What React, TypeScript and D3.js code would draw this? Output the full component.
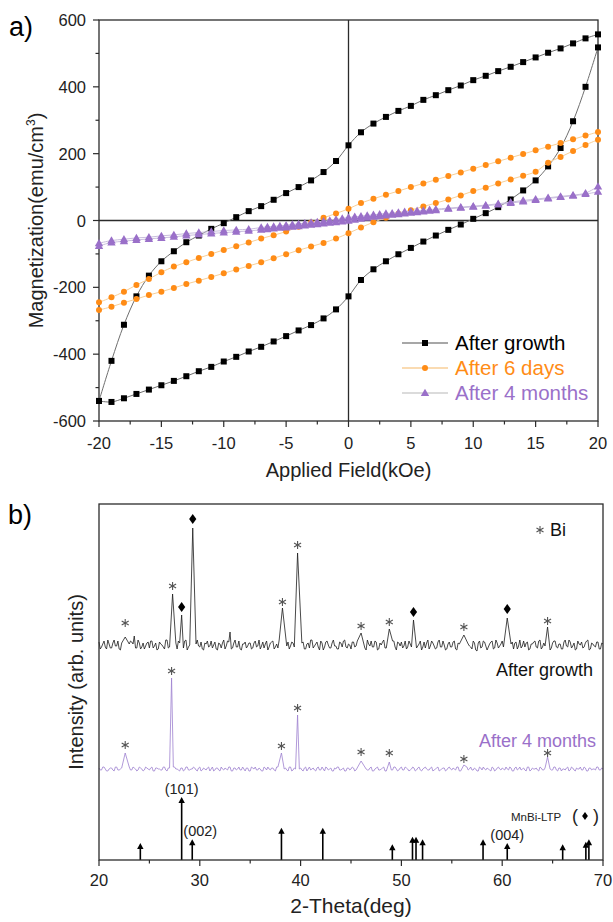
import * as d3 from "d3";

// ---- panel a: hysteresis loops (kOe, emu/cm3) ----
const FIELD_DOWN = d3.range(20, -20.5, -1);
const FIELD_UP = d3.range(-20, 20.5, 1);

const GROWTH_DOWN = [557, 545, 530, 515, 502, 488, 474, 460, 447, 433, 420, 404, 390, 375, 361, 343, 328, 310, 290, 264, 225,
  178, 145, 120, 100, 82, 62, 43, 28, 10, -8, -25, -45, -65, -92, -122, -165, -227, -312, -420, -540];
const GROWTH_UP = [-540, -543, -532, -519, -506, -493, -480, -466, -451, -438, -422, -408, -392, -378, -362, -346, -329, -313, -293, -266, -227,
  -178, -146, -122, -101, -82, -63, -45, -28, -12, 5, 22, 40, 63, 90, 120, 162, 217, 297, 400, 518];

const DAYS_DOWN = [265, 254, 243, 232, 221, 210, 199, 188, 177, 166, 155, 144, 133, 122, 111, 100, 88, 77, 65, 52, 35,
  21, 8, -6, -19, -33, -44, -54, -66, -77, -88, -100, -112, -125, -138, -155, -175, -193, -213, -230, -245];
const DAYS_UP = [-268, -258, -246, -235, -223, -213, -202, -190, -180, -169, -158, -147, -136, -125, -113, -101, -89, -78, -67, -54, -38,
  -21, -5, 8, 20, 31, 42, 52, 63, 75, 88, 98, 111, 123, 134, 146, 173, 190, 208, 226, 242];

const MONTHS_FIELD_DOWN = [...d3.range(20, 7.5, -1), ...d3.range(7, -7.25, -0.5), ...d3.range(-8, -20.5, -1)];
const MONTHS_FIELD_UP = [...d3.range(-20, -7.5, 1), ...d3.range(-7, 7.25, 0.5), ...d3.range(8, 20.5, 1)];
const MONTHS_DOWN = [102, 82, 76, 72, 68, 64, 60, 55, 50, 46, 43, 40, 37,
  34, 32, 30, 29, 27, 26, 24, 22, 21, 19, 17, 15, 13, 11, 9, 6, 3, 0, -2, -4, -6, -8, -10, -12, -14, -16, -18, -19, -21,
  -26, -28, -30, -33, -36, -39, -43, -46, -50, -52, -56, -60, -68];
const MONTHS_UP = [-76, -66, -62, -58, -55, -52, -49, -45, -42, -39, -36, -34, -31,
  -28, -26, -24, -22, -21, -19, -17, -15, -13, -11, -9, -7, -5, -3, -1, 2, 5, 8, 11, 13, 15, 17, 19, 21, 23, 25, 27, 29, 31,
  35, 38, 41, 44, 48, 52, 57, 61, 66, 70, 74, 79, 86];

const LOOP_LABELS = ["After growth", "After 6 days", "After 4 months"];

// ---- panel b: XRD, 2-theta grid from 20 to 70 in 0.125 steps ----
// *_NOISE sits on 20, 20.25, ...; *_MID on 20.125, 20.375, ...
const THETA0 = 20;
const STEP = 0.25;
const GROWTH_NOISE = [
  3, -2, 4, -4, 1, -3, 5, -1, -4, 2, 4, -5, 1, 3, 9, -3, 2, -2, -4, 2,
  -3, 4, -1, -5, 3, 0, -4, 5, -2, 1, 3, -4, 2, -1, 4, -5, 0, 3, -3, 5,
  -2, -4, 2, 4, -1, -3, 3, -5, 1, 2, -4, 4, 13, -3, 5, -2, -4, 1, 3, -1,
  2, -3, 4, -1, -4, 3, 1, -5, 2, 4, -2, -3, 5, 0, -4, 3, -1, 2, -5, 4,
  -1, 3, -4, 2, 5, -3, 1, -2, 4, -5, 3, 0, -3, 5, -1, -4, 2, 4, -2, 1,
  -4, 3, -1, 5, -3, 2, -5, 1, 4, -2, 3, -4, 0, 5, -3, 1, -2, 4, -5, 2,
  3, -1, -4, 4, -2, 5, -3, 1, -5, 3, 2, -4, 4, -1, -3, 5, -2, 0, -4, 3,
  -2, 4, -5, 1, 3, -3, 5, -1, -4, 2, -6, 4, -2, 3, -5, 1, 4, -3, 2, -1,
  4, -3, 1, -5, 3, 2, -4, 5, -1, -2, 3, -4, 1, 4, -3, 5, -2, -1, 3, -5,
  2, 4, -3, 1, -4, 5, -2, 3, -1, -5, 4, 0, -3, 2, 5, -4, 1, -2, 3, -4,
  1,
];
const GROWTH_MID = [
  -4, 1, -2, 5, -3, 2, -1, 4, -5, 0, 3, -2, 4, 1, -3, 5, -4, 2, -1, 3,
  4, -3, 2, -4, 1, -2, 5, -3, 0, -5, 2, 4, -1, -3, 5, -2, 3, -4, 1, -1,
  3, -5, 1, -2, 4, 0, -4, 2, -3, 5, -1, 3, -4, 2, -2, 4, -5, 1, -3, 2,
  -4, 2, -2, 5, -1, -3, 4, -2, 3, -4, 1, 5, -3, 2, -1, -4, 3, -2, 4, -3,
  2, -4, 1, -3, 5, -1, 3, -5, 2, -2, 4, -3, 2, -1, -4, 3, -2, 5, -3, 0,
  3, -2, 4, -4, 1, -3, 5, -1, -2, 4, -5, 2, 3, -3, 1, -4, 4, -2, 3, -1,
  -3, 4, -2, 1, -5, 3, -1, 4, -2, -3, 5, -1, 2, -4, 3, -2, 4, -5, 1, -2,
  3, -4, 2, -1, 5, -3, 1, -2, 4, -5, 2, -3, 4, -1, -2, 3, -4, 5, -3, 1,
  -2, 5, -3, 1, -4, 3, -1, -3, 4, 2, -5, 1, 3, -2, 4, -4, 2, 3, -1, -3,
  4, -2, 1, -4, 3, -1, 5, -3, 2, -4, 1, 3, -2, 4, -5, 2, -1, 3, -4, 2,
];
const MONTHS_NOISE = [
  1, -1, 2, -2, 0, 1, -2, 2, -1, 1, -2, 0, 2, -1, 1, -2, 2, 0, -1, 1,
  -1, 2, -2, 1, 0, -1, 2, -2, 1, -1, 2, 0, -2, 1, -1, 2, -1, 0, 1, -2,
  2, -1, 0, 1, -2, 2, -1, 1, -2, 0, 1, -1, 2, -2, 1, 0, -1, 2, -2, 1,
  -2, 1, 2, -1, 0, -2, 1, 2, -1, 1, -2, 2, 0, -1, 1, -2, 2, -1, 0, 1,
  1, -2, 2, 0, -1, 1, -2, 2, -1, 0, 2, -1, 1, -2, 0, 2, -1, 1, -2, 1,
  0, 1, -1, 2, -2, 1, 0, -1, 2, -2, 1, -1, 0, 2, -2, 1, -1, 2, 0, -1,
  2, -1, 1, -2, 0, 1, -1, 2, -2, 1, 0, -1, 2, -1, 1, -2, 0, 1, -1, 2,
  -1, 0, 2, -2, 1, -1, 2, 0, -1, 1, -2, 2, -1, 0, 1, -1, 2, -2, 1, 0,
  1, -1, 0, 2, -2, 1, -1, 2, 0, -1, 2, -2, 1, 0, -1, 2, -1, 1, -2, 0,
  -1, 2, -2, 1, 0, -1, 2, -1, 1, -2, 0, 2, -1, 1, -2, 1, 0, -1, 2, -1,
  0,
];
const MONTHS_MID = [
  -1, 2, 0, -2, 1, -1, 2, -1, 0, 2, -2, 1, -1, 2, 0, -1, 1, -2, 2, 0,
  1, -2, 1, 0, -1, 2, -1, 1, -2, 2, 0, -1, 1, -2, 2, -1, 0, 2, -1, 1,
  -2, 1, -1, 2, 0, -2, 1, -1, 2, -1, 0, 2, -2, 1, -1, 2, -1, 0, 1, -2,
  2, 0, -1, 1, -2, 2, -1, 0, 1, -1, 2, -2, 1, 0, -1, 2, -2, 1, -1, 0,
  -1, 1, -2, 2, 0, -1, 1, -1, 2, -2, 1, 0, -2, 1, 2, -1, 0, -2, 1, -1,
  2, -2, 1, -1, 0, 2, -1, 1, -2, 0, 2, -1, 1, -2, 1, 0, -1, 2, -2, 1,
  -1, 2, 0, -1, 2, -2, 1, -1, 0, 2, -1, 1, -2, 0, 2, -1, 1, -2, 1, 0,
  1, -1, 2, -2, 0, 1, -1, 2, -1, 0, -2, 1, 2, -1, 0, -2, 1, -1, 2, -1,
  0, 2, -1, 1, -2, 2, 0, -1, 1, -2, 2, -1, 0, 1, -2, 1, -1, 2, 0, -1,
  2, -1, 1, -2, 0, 1, -2, 2, -1, 1, 0, -1, 2, -2, 1, -1, 0, 2, -1, 1,
];
// peaks: [2theta, height, half width]
const GROWTH_PEAKS = [[22.6, 8, 0.3], [27.3, 51, 0.2], [28.2, 30, 0.12], [29.3, 117, 0.2], [38.2, 37, 0.3], [39.7, 92, 0.3],
  [46.0, 12, 0.35], [48.8, 16, 0.25], [51.2, 25, 0.2], [56.2, 10, 0.35], [60.5, 27, 0.3], [64.5, 18, 0.25]];
const MONTHS_PEAKS = [[22.6, 16, 0.35], [27.2, 91, 0.15], [38.1, 16, 0.25], [39.7, 54, 0.15], [46.0, 8, 0.4], [48.8, 7, 0.2],
  [56.2, 4, 0.25], [64.5, 12, 0.15]];
const GROWTH_OFFSET = 215;
const MONTHS_OFFSET = 91;

const GROWTH_STARS = [[22.6, 22], [27.3, 59], [38.2, 43], [39.7, 100], [46.0, 19], [48.8, 23], [56.2, 18], [64.5, 24]];
const GROWTH_DIAMONDS = [[28.2, 38], [29.3, 126], [51.2, 33], [60.5, 36]];
const MONTHS_STARS = [[22.6, 24], [27.2, 98], [38.1, 23], [39.7, 61], [46.0, 17], [48.8, 16], [56.2, 10], [64.5, 16]];

// MnBi-LTP reference pattern
const REF_THETA = [24.1, 28.2, 29.25, 38.1, 42.2, 49.1, 51.1, 51.45, 52.1, 58.1, 60.5, 66.0, 68.3, 68.6];
const REF_INT = [27, 100, 33, 51, 51, 25, 37, 37, 33, 33, 27, 25, 29, 33];
const REF_HKL = [["(101)", 28.2], ["(002)", 29.25], ["(004)", 60.5]];

const FONT = "Liberation Sans, Arial, Helvetica, sans-serif";
const AXIS = "#2b2b2b";
const ORANGE = "#ff8c16";
const PURPLE = "#9a70c9";

function buildTrace(noise, mid, peaks) {
  const pts = [];
  noise.forEach((v, i) => {
    pts.push([THETA0 + i * STEP, v]);
    if (i < mid.length) pts.push([THETA0 + i * STEP + STEP / 2, mid[i]]);
  });
  const kept = pts.filter(([t]) => !peaks.some((p) => Math.abs(t - p[0]) < p[2]));
  peaks.forEach((p) => kept.push([p[0], p[1]]));
  kept.sort((a, b) => a[0] - b[0]);
  return kept;
}

const tri = "M0,-4.2L4.2,3L-4.2,3Z";
const diamond = "M0,-5L3.6,0L0,5L-3.6,0Z";
const star = d3.symbol(d3.symbolAsterisk, 46)();

function Marker({ kind, x, y, color }) {
  if (kind === "square") return <rect x={x - 3} y={y - 3} width={6} height={6} fill={color} />;
  if (kind === "circle") return <circle cx={x} cy={y} r={3} fill={color} />;
  return <path d={tri} transform={`translate(${x},${y})`} fill={color} />;
}

function PanelA() {
  const L = 99, R = 598, T = 20, B = 421;
  const x = d3.scaleLinear().domain([-20, 20]).range([L, R]);
  const y = d3.scaleLinear().domain([-600, 600]).range([B, T]);
  const line = d3.line().x((d) => x(d[0])).y((d) => y(d[1])).curve(d3.curveCatmullRom);

  const series = [
    { label: LOOP_LABELS[0], kind: "square", color: "#000", lc: "#6f6f6f", legLine: "#8a8a8a", txt: "#000",
      branches: [[FIELD_DOWN, GROWTH_DOWN], [FIELD_UP, GROWTH_UP]] },
    { label: LOOP_LABELS[1], kind: "circle", color: ORANGE, lc: "#f8cf98", legLine: "#f8cf98", txt: ORANGE,
      branches: [[FIELD_DOWN, DAYS_DOWN], [FIELD_UP, DAYS_UP]] },
    { label: LOOP_LABELS[2], kind: "tri", color: PURPLE, lc: "#c9bedd", legLine: "#cfcfcf", txt: PURPLE,
      branches: [[MONTHS_FIELD_DOWN, MONTHS_DOWN], [MONTHS_FIELD_UP, MONTHS_UP]] },
  ];

  const yMajor = d3.range(-600, 601, 200);
  const yMinor = d3.range(-500, 600, 200);
  const xMajor = d3.range(-20, 21, 5);
  const xMinor = d3.range(-17.5, 20, 5);

  return (
    <g fontFamily={FONT}>
      <text x={9} y={36} fontSize={27}>a)</text>
      <rect x={L} y={T} width={R - L} height={B - T} fill="none" stroke={AXIS} strokeWidth={1.3} />
      <line x1={x(0)} x2={x(0)} y1={T} y2={B} stroke={AXIS} strokeWidth={1.3} />
      <line x1={L} x2={R} y1={y(0)} y2={y(0)} stroke={AXIS} strokeWidth={1.3} />

      {series.map((s, si) => (
        <g key={si}>
          {s.branches.map(([xs, ys], bi) => (
            <path key={bi} d={line(xs.map((v, i) => [v, ys[i]]))} fill="none" stroke={s.lc} strokeWidth={1} />
          ))}
          {s.branches.map(([xs, ys], bi) =>
            xs.map((v, i) => <Marker key={`${bi}-${i}`} kind={s.kind} x={x(v)} y={y(ys[i])} color={s.color} />)
          )}
        </g>
      ))}

      {yMajor.map((v) => (
        <g key={v}>
          <line x1={L - 6} x2={L} y1={y(v)} y2={y(v)} stroke={AXIS} strokeWidth={1.2} />
          <text x={L - 13} y={y(v) + 6} fontSize={16.5} textAnchor="end" fill="#222">{v}</text>
        </g>
      ))}
      {yMinor.map((v) => (
        <line key={v} x1={L - 3.5} x2={L} y1={y(v)} y2={y(v)} stroke={AXIS} strokeWidth={1.2} />
      ))}
      {xMajor.map((v) => (
        <g key={v}>
          <line x1={x(v)} x2={x(v)} y1={B} y2={B + 6} stroke={AXIS} strokeWidth={1.2} />
          <text x={x(v)} y={448.5} fontSize={16.5} textAnchor="middle" fill="#222">{v}</text>
        </g>
      ))}
      {xMinor.map((v) => (
        <line key={v} x1={x(v)} x2={x(v)} y1={B} y2={B + 3.5} stroke={AXIS} strokeWidth={1.2} />
      ))}

      <text x={(L + R) / 2} y={477} fontSize={20} textAnchor="middle" fill="#222">Applied Field(kOe)</text>
      <text transform={`translate(43,${(T + B) / 2}) rotate(-90)`} fontSize={20} textAnchor="middle" fill="#222">
        <tspan>Magnetization(emu/cm</tspan>
        <tspan dy={-8} fontSize={12}>3</tspan>
        <tspan dy={8}>)</tspan>
      </text>

      {series.map((s, i) => {
        const cy = 343 + i * 25;
        return (
          <g key={i}>
            <line x1={402} x2={448} y1={cy} y2={cy} stroke={s.legLine} strokeWidth={1.5} />
            <Marker kind={s.kind} x={425} y={cy} color={s.color} />
            <text x={455} y={cy + 7} fontSize={20.5} fill={s.txt}>{s.label}</text>
          </g>
        );
      })}
    </g>
  );
}

function PanelB() {
  const L = 99, R = 603, T = 504, B = 860;
  const x = d3.scaleLinear().domain([20, 70]).range([L, R]);
  const y = d3.scaleLinear().domain([0, 356]).range([B, T]);
  const refY = d3.scaleLinear().domain([0, 100]).range([B, 797]);
  const line = d3.line().x((d) => x(d[0])).y((d) => y(d[1]));

  const growth = buildTrace(GROWTH_NOISE, GROWTH_MID, GROWTH_PEAKS).map(([t, v]) => [t, v + GROWTH_OFFSET]);
  const months = buildTrace(MONTHS_NOISE, MONTHS_MID, MONTHS_PEAKS).map(([t, v]) => [t, v + MONTHS_OFFSET]);

  const xMajor = d3.range(20, 71, 10);
  const xMinor = d3.range(25, 70, 10);

  return (
    <g fontFamily={FONT}>
      <text x={8} y={524} fontSize={27}>b)</text>
      <path d={line(growth)} fill="none" stroke="#1c1c1c" strokeWidth={0.8} />
      <path d={line(months)} fill="none" stroke="#9d80cf" strokeWidth={0.8} />

      {GROWTH_STARS.map(([t, v], i) => (
        <path key={`gs${i}`} d={star} transform={`translate(${x(t)},${y(v + GROWTH_OFFSET)})`} fill="none" stroke="#555" strokeWidth={1.1} />
      ))}
      {GROWTH_DIAMONDS.map(([t, v], i) => (
        <path key={`gd${i}`} d={diamond} transform={`translate(${x(t)},${y(v + GROWTH_OFFSET)})`} fill="#000" />
      ))}
      {MONTHS_STARS.map(([t, v], i) => (
        <path key={`ms${i}`} d={star} transform={`translate(${x(t)},${y(v + MONTHS_OFFSET)})`} fill="none" stroke="#555" strokeWidth={1.1} />
      ))}

      {REF_THETA.map((t, i) => {
        const top = refY(REF_INT[i]);
        return (
          <g key={`r${i}`}>
            <line x1={x(t)} x2={x(t)} y1={B} y2={top + 5} stroke="#000" strokeWidth={1.6} />
            <path d={`M${x(t)},${top}L${x(t) + 3.2},${top + 6}L${x(t) - 3.2},${top + 6}Z`} fill="#000" />
          </g>
        );
      })}
      {REF_HKL.map(([lab, t]) => {
        const i = REF_THETA.indexOf(t);
        return (
          <text key={lab} x={x(t) + (lab === "(002)" ? 8 : 0)} y={refY(REF_INT[i]) - 3} fontSize={14.5} textAnchor="middle" fill="#222">{lab}</text>
        );
      })}

      <rect x={L} y={T} width={R - L} height={B - T} fill="none" stroke={AXIS} strokeWidth={1.3} />
      {xMajor.map((v) => (
        <g key={v}>
          <line x1={x(v)} x2={x(v)} y1={B} y2={B + 6} stroke={AXIS} strokeWidth={1.2} />
          <text x={x(v)} y={886} fontSize={16.5} textAnchor="middle" fill="#222">{v}</text>
        </g>
      ))}
      {xMinor.map((v) => (
        <line key={v} x1={x(v)} x2={x(v)} y1={B} y2={B + 3.5} stroke={AXIS} strokeWidth={1.2} />
      ))}

      <text x={(L + R) / 2} y={913} fontSize={21} textAnchor="middle" fill="#222">2-Theta(deg)</text>
      <text transform={`translate(83,${(T + B) / 2}) rotate(-90)`} fontSize={20} textAnchor="middle" fill="#222">Intensity (arb. units)</text>

      <path d={star} transform="translate(540,530)" fill="none" stroke="#555" strokeWidth={1.1} />
      <text x={550} y={536} fontSize={18} fill="#111">Bi</text>
      <text x={593} y={676} fontSize={18} textAnchor="end" fill="#111">After growth</text>
      <text x={596} y={747} fontSize={18} textAnchor="end" fill={PURPLE}>After 4 months</text>

      <text x={511} y={821} fontSize={11.5} fill="#222">MnBi-LTP</text>
      <text x={572} y={822} fontSize={18} fill="#222">(</text>
      <path d={diamond} transform="translate(585,816) scale(0.8)" fill="#000" />
      <text x={593} y={822} fontSize={18} fill="#222">)</text>
    </g>
  );
}

export default function App() {
  return (
    <svg width={613} height={922} style={{ position: "absolute", left: 0, top: 0, background: "#fff" }}>
      <rect width={613} height={922} fill="#fff" />
      <PanelA />
      <PanelB />
    </svg>
  );
}
